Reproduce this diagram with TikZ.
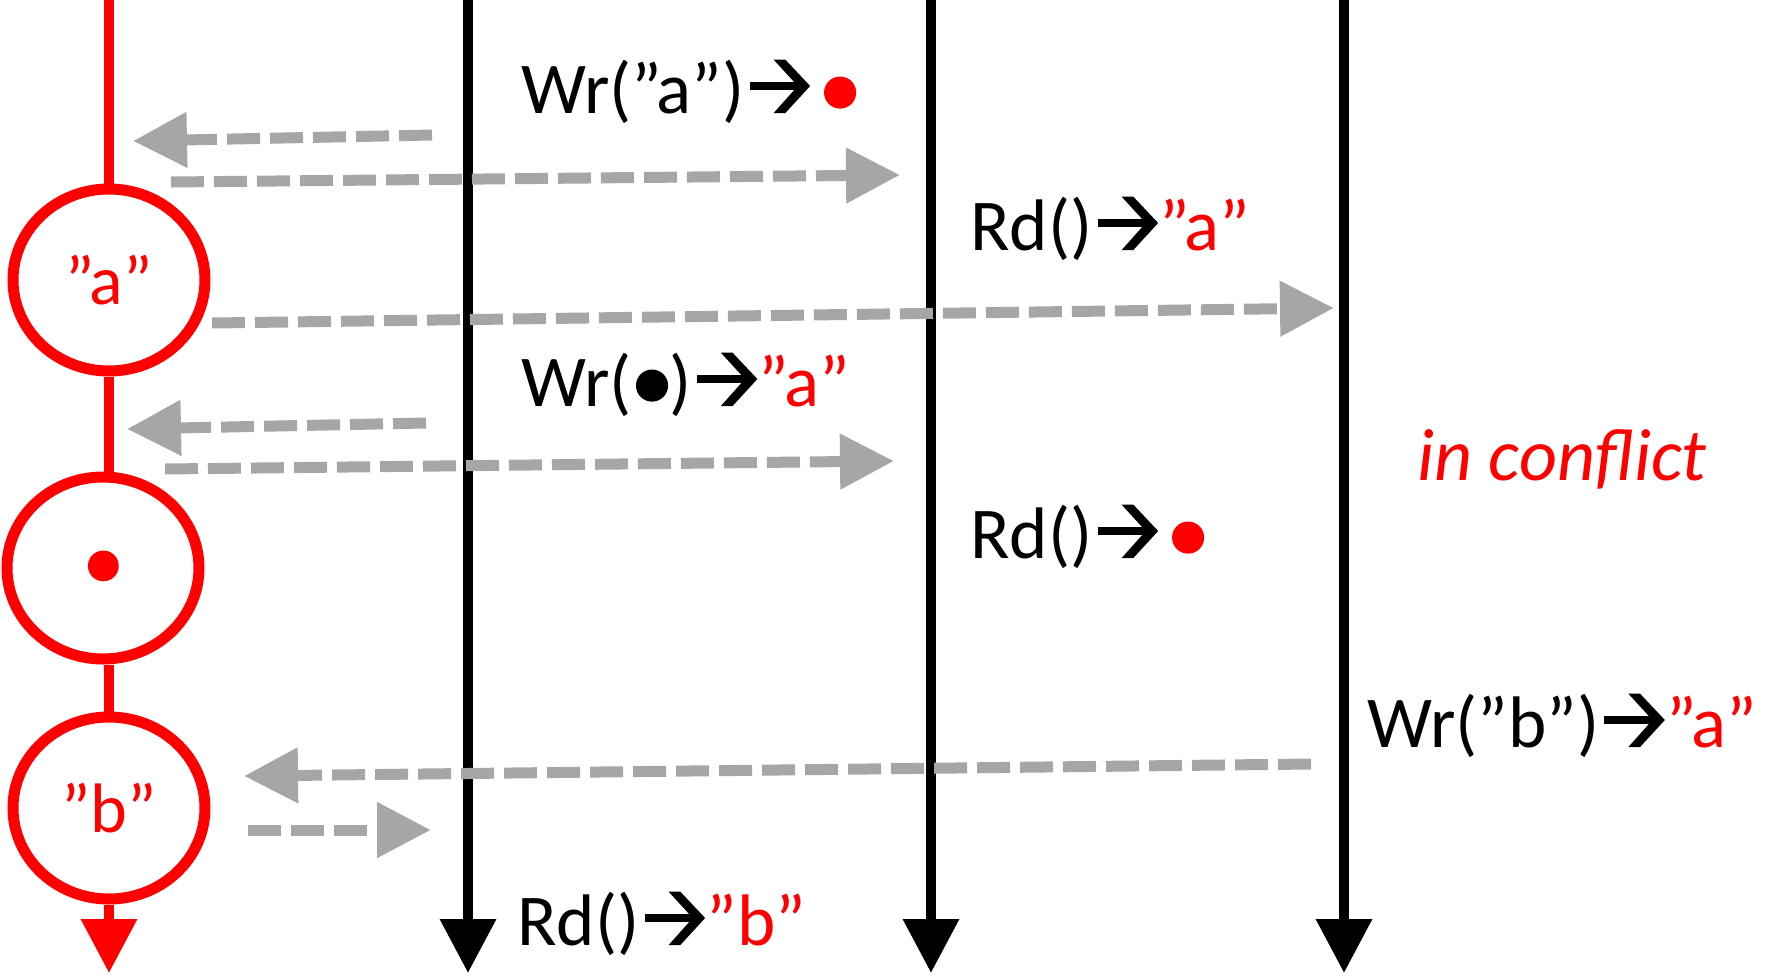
\documentclass[tikz,border=0pt]{standalone}
\usepackage{fontspec}
\setmainfont{Carlito}
\usepackage{xcolor}
\usepackage{tikz}
\usetikzlibrary{shapes.geometric, arrows.meta, positioning, calc}

\definecolor{msggray}{RGB}{166,166,166}
\definecolor{regred}{RGB}{255,0,0}

% arrow glyph and dot used inside the labels
\newcommand{\harr}{\tikz[baseline=0pt,x=1em,y=1em]{\path (0,0) (0.92,0);
    \fill[black] (0.07,0.315) rectangle (0.78,0.425);
    \fill[black] (0.40,0.73) -- (0.56,0.73) -- (0.90,0.37) -- (0.56,0) -- (0.40,0) -- (0.73,0.37) -- cycle;}}
\newcommand{\vdot}[2][0.39]{\tikz[baseline=0pt,x=1em,y=1em]{\path (0,0) (#1+0.24,0); \fill[#2] (#1,0.28) circle (0.22);}}

\begin{document}
\begin{tikzpicture}[x=1pt, y=-1pt,
    lifeline/.style={line width=10pt, -{Triangle[length=54pt,width=54pt]}},
    reg/.style={ellipse, draw=regred, line width=11pt, minimum width=192pt, minimum height=182pt, inner sep=0pt, text=regred, font=\fontsize{70}{76}\selectfont},
    regline/.style={color=regred, line width=10pt},
    msg/.style={color=msggray, line width=11pt, dash pattern=on 33pt off 10pt, -{Triangle[length=54pt,width=53pt]}},
    op/.style={anchor=base west, inner sep=0pt, font=\fontsize{73}{80}\selectfont}
]
    \useasboundingbox (0,0) rectangle (1769,975);

    % Processes
    \coordinate (p1top) at (468,0);  \coordinate (p1end) at (468,973);
    \coordinate (p2top) at (931,0);  \coordinate (p2end) at (931,973);
    \coordinate (p3top) at (1344,0); \coordinate (p3end) at (1344,973);
    \draw[lifeline] (p1top) -- (p1end);
    \draw[lifeline] (p2top) -- (p2end);
    \draw[lifeline] (p3top) -- (p3end);

    % Register
    \node[reg] (va) at (109,280) {”a”};
    \node[reg] (vdot) at (103,568) {\vdot[0.25]{regred}};
    \node[reg] (vb) at (109,808) {”b”};
    \coordinate (regtop) at (109,0); \coordinate (regend) at (109,973);
    \draw[regline] (regtop) -- (va.north);
    \draw[regline] (va.south) -- (va.south |- vdot.north);
    \draw[regline] (vb.north |- vdot.south) -- (vb.north);
    \draw[regline, -{Triangle[length=54pt,width=54pt]}] (vb.south) -- (regend);

    % Messages
    \coordinate (m1s) at (432,135);  \coordinate (m1e) at (133,141);
    \coordinate (m2s) at (171,182);  \coordinate (m2e) at (900,175);
    \coordinate (m3s) at (212,323);  \coordinate (m3e) at (1334,308);
    \coordinate (m4s) at (426,423);  \coordinate (m4e) at (127,429);
    \coordinate (m5s) at (165,469);  \coordinate (m5e) at (894,461);
    \coordinate (m6s) at (1311,764); \coordinate (m6e) at (244,776);
    \coordinate (m7s) at (248,830);  \coordinate (m7e) at (431,830);
    \draw[msg] (m1s) -- (m1e);
    \draw[msg] (m2s) -- (m2e);
    \draw[msg] (m3s) -- (m3e);
    \draw[msg] (m4s) -- (m4e);
    \draw[msg] (m5s) -- (m5e);
    \draw[msg] (m6s) -- (m6e);
    \draw[msg] (m7s) -- (m7e);

    % Operations
    \node[op] (wra) at (521,113) {Wr(”a”)\harr\vdot{regred}};
    \node[op] (rda) at (970,250) {Rd()\harr\textcolor{regred}{”a”}};
    \node[op] (wrdot) at (521,406) {Wr(\vdot[0.28]{black})\harr\textcolor{regred}{”a”}};
    \node[op] (rddot) at (970,558) {Rd()\harr\vdot{regred}};
    \node[op, text=regred, font=\fontsize{74}{80}\selectfont\itshape] (conflict) at (1417,480) {in conflict};
    \node[op] (wrb) at (1367,747) {Wr(”b”)\harr\textcolor{regred}{”a”}};
    \node[op] (rdb) at (517,945) {Rd()\harr\textcolor{regred}{”b”}};
\end{tikzpicture}
\end{document}
